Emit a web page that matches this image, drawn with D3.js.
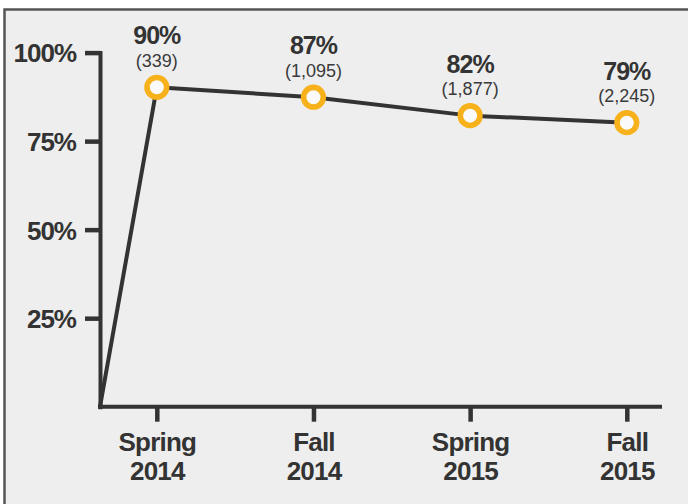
<!DOCTYPE html>
<html>
<head>
<meta charset="utf-8">
<script src="https://cdn.jsdelivr.net/npm/d3@7"></script>
<style>
    body { margin: 0; background: #fff; }
    svg text { font-family: "Liberation Sans", Arial, sans-serif; fill: #333; }
</style>
</head>
<body>
<div id="chart"></div>
<script>
// terms (x categories), two text lines each
const terms = ["Spring 2014", "Fall 2014", "Spring 2015", "Fall 2015"];
const termLines = [["Spring", "2014"], ["Fall", "2014"], ["Spring", "2015"], ["Fall", "2015"]];
// where the points sit on the chart (percent)
const rates = [90.2, 87.4, 82.2, 80.2];
// printed labels above the points
const rateLabels = ["90%", "87%", "82%", "79%"];
const countLabels = ["(339)", "(1,095)", "(1,877)", "(2,245)"];
const yTicks = [25, 50, 75, 100];

let width = 688;
let height = 504;

let svg = d3.select("#chart")
    .append("svg")
    .attr("width", width)
    .attr("height", height);

// panel
svg.append("rect")
    .attr("x", 4.5)
    .attr("y", 9.5)
    .attr("width", 720)
    .attr("height", 520)
    .attr("fill", "#eeeeee")
    .attr("stroke", "#555")
    .attr("stroke-width", 2.5);

let axisX0 = 100;
let axisX1 = 662;

let yScale = d3.scaleLinear()
    .domain([0, 100])
    .range([406.7, 52.6]);

let xScale = d3.scalePoint()
    .domain(terms)
    .range([156.8, 626.8]);

// y axis
let yAxis = d3.axisLeft(yScale)
    .tickValues(yTicks)
    .tickSize(15)
    .tickSizeOuter(0)
    .tickPadding(9)
    .tickFormat(function(d) { return d + "%"; });

let gy = svg.append("g")
    .attr("transform", `translate(${axisX0}, 0)`)
    .call(yAxis);

gy.select(".domain")
    .attr("stroke", "#333")
    .attr("stroke-width", 4)
    .attr("stroke-linecap", "square");
gy.selectAll(".tick line")
    .attr("stroke", "#333")
    .attr("stroke-width", 4.5);
gy.selectAll(".tick text")
    .attr("dy", "0.36em")
    .style("font-size", "26px")
    .style("font-weight", "bold")
    .style("letter-spacing", "-1px");

// x axis
let xAxis = d3.axisBottom(xScale)
    .tickSize(15)
    .tickSizeOuter(0)
    .tickFormat("");

let gx = svg.append("g")
    .attr("transform", `translate(0, ${yScale(0)})`)
    .call(xAxis);

gx.select(".domain").remove();
gx.selectAll(".tick line")
    .attr("stroke", "#333")
    .attr("stroke-width", 4.5);

gx.append("line")
    .attr("x1", axisX0 - 2)
    .attr("x2", axisX1)
    .attr("y1", 0)
    .attr("y2", 0)
    .attr("stroke", "#333")
    .attr("stroke-width", 4);

gx.selectAll(".tick").each(function(d, i) {
    let t = d3.select(this).append("text")
        .attr("text-anchor", "middle")
        .style("font-size", "26px")
        .style("font-weight", "bold")
        .style("letter-spacing", "-0.8px");
    termLines[i].forEach(function(s, k) {
        t.append("tspan")
            .attr("x", 0)
            .attr("y", 44 + k * 29)
            .text(s);
    });
});

// line, starting at the origin
let pts = [[axisX0, yScale(0)]];
terms.forEach(function(t, i) {
    pts.push([xScale(t), yScale(rates[i])]);
});

svg.append("path")
    .datum(pts)
    .attr("fill", "none")
    .attr("stroke", "#333")
    .attr("stroke-width", 4)
    .attr("stroke-linejoin", "round")
    .attr("d", d3.line());

// points
svg.selectAll(".dot")
    .data(terms)
    .enter().append("circle")
    .attr("class", "dot")
    .attr("cx", function(d) { return xScale(d); })
    .attr("cy", function(d, i) { return yScale(rates[i]); })
    .attr("r", 9.8)
    .attr("fill", "#fafafa")
    .attr("stroke", "#f6b11b")
    .attr("stroke-width", 5.6);

// labels
svg.selectAll(".pct")
    .data(terms)
    .enter().append("text")
    .attr("class", "pct")
    .attr("text-anchor", "middle")
    .attr("x", function(d) { return xScale(d); })
    .attr("y", function(d, i) { return yScale(rates[i]) - 43; })
    .style("font-size", "25px")
    .style("font-weight", "bold")
    .style("letter-spacing", "-1px")
    .text(function(d, i) { return rateLabels[i]; });

svg.selectAll(".cnt")
    .data(terms)
    .enter().append("text")
    .attr("class", "cnt")
    .attr("text-anchor", "middle")
    .attr("x", function(d) { return xScale(d); })
    .attr("y", function(d, i) { return yScale(rates[i]) - 20.6; })
    .style("font-size", "18px")
    .style("fill", "#3a3a3a")
    .text(function(d, i) { return countLabels[i]; });
</script>
</body>
</html>
